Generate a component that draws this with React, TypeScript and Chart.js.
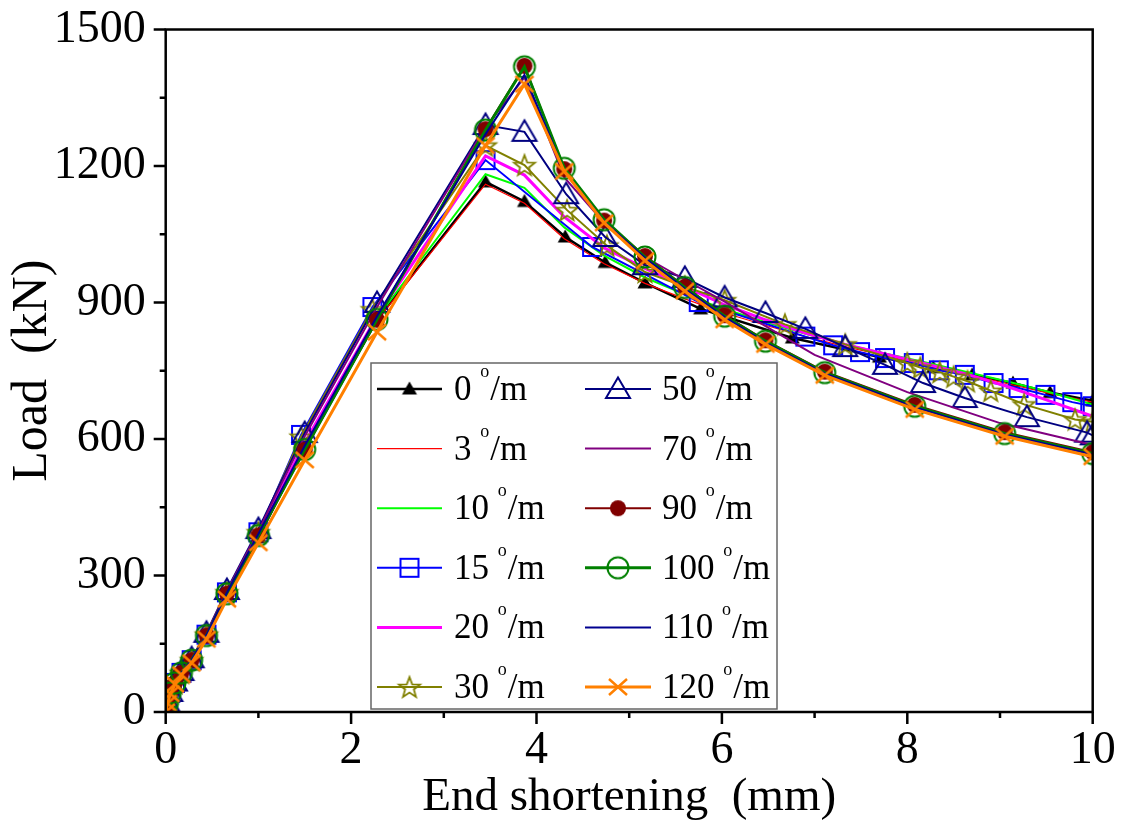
import React, { useEffect, useRef } from 'react';
import { Chart, registerables } from 'chart.js';

Chart.register(...registerables);

const FONT = "'Liberation Serif', 'Times New Roman', Times, serif";

// ---- data (end shortening in mm, load in kN) ----
const seriesLabels = ['0', '3', '10', '15', '20', '30', '50', '70', '90', '100', '110', '120'];

const x0 = [0, 0.02, 0.05, 0.1, 0.17, 0.28, 0.44, 0.66, 1.0, 1.5, 2.28, 3.45, 3.87, 4.31, 4.74, 5.17, 5.77, 6.76, 7.7, 8.28, 8.7, 9.14, 9.54, 10];
const y0 = [0, 19, 41, 63, 85, 112, 166, 257, 383, 583, 862, 1165, 1122, 1044, 988, 943, 886, 822, 780, 757, 741, 723, 702, 684];

const x3 = [0, 0.02, 0.05, 0.1, 0.17, 0.28, 0.44, 0.66, 1.0, 1.5, 2.28, 3.45, 3.87, 4.3, 4.73, 5.17, 5.6, 6.03, 6.47, 6.9, 7.33, 7.76, 8.2, 8.63, 9.07, 9.5, 10];
const y3 = [0, 19, 41, 63, 85, 112, 166, 257, 383, 582, 860, 1160, 1118, 1040, 985, 942, 908, 877, 850, 825, 803, 783, 763, 743, 722, 702, 681];

const x10 = [0, 0.02, 0.05, 0.1, 0.17, 0.28, 0.44, 0.66, 1.0, 1.5, 2.28, 3.45, 3.87, 4.3, 4.73, 5.17, 5.6, 6.03, 6.47, 6.9, 7.33, 7.76, 8.2, 8.63, 9.07, 9.5, 10];
const y10 = [0, 20, 42, 64, 86, 113, 168, 259, 387, 588, 866, 1182, 1152, 1065, 1003, 955, 918, 885, 857, 831, 808, 788, 768, 748, 727, 705, 676];

const x15 = [0, 0.02, 0.05, 0.1, 0.17, 0.28, 0.44, 0.66, 1.0, 1.46, 2.23, 3.45, 4.6, 5.75, 6.9, 7.2, 7.49, 7.76, 8.07, 8.34, 8.62, 8.93, 9.2, 9.49, 9.78, 10];
const y15 = [0, 20, 42, 64, 86, 114, 170, 263, 395, 609, 890, 1213, 1022, 901, 825, 806, 791, 778, 767, 751, 741, 723, 712, 697, 681, 672];

const x20 = [0, 0.02, 0.05, 0.1, 0.17, 0.28, 0.44, 0.66, 1.0, 1.5, 2.28, 3.45, 3.87, 4.3, 4.73, 5.17, 5.6, 6.03, 6.47, 6.9, 7.33, 7.76, 8.2, 8.63, 9.07, 9.5, 10];
const y20 = [0, 20, 42, 64, 86, 114, 169, 261, 390, 592, 870, 1222, 1180, 1088, 1020, 975, 935, 895, 862, 833, 808, 787, 765, 743, 716, 686, 650];

const x30 = [0, 0.02, 0.05, 0.1, 0.17, 0.28, 0.44, 0.66, 1.0, 1.46, 2.23, 3.45, 3.87, 4.33, 4.76, 5.17, 5.6, 6.03, 6.68, 7.33, 8.0, 8.14, 8.35, 8.5, 8.65, 8.9, 9.26, 9.81, 10];
const y30 = [0, 20, 42, 64, 86, 114, 170, 263, 395, 605, 885, 1245, 1202, 1103, 1025, 967, 935, 905, 852, 808, 767, 757, 747, 737, 727, 706, 676, 643, 638];

const x50 = [0, 0.02, 0.05, 0.1, 0.17, 0.28, 0.44, 0.66, 1.0, 1.5, 2.28, 3.45, 3.87, 4.32, 4.74, 5.17, 5.6, 6.03, 6.47, 6.9, 7.33, 7.76, 8.17, 8.62, 9.29, 9.94, 10];
const y50 = [0, 21, 44, 67, 90, 118, 174, 268, 402, 613, 899, 1290, 1275, 1138, 1044, 982, 954, 911, 877, 842, 802, 763, 723, 690, 648, 614, 608];

const x70 = [0, 0.02, 0.05, 0.1, 0.17, 0.28, 0.44, 0.66, 1.0, 1.5, 2.28, 3.45, 3.87, 4.3, 4.73, 5.17, 5.6, 6.03, 6.47, 7.0, 8.0, 9.0, 10];
const y70 = [0, 21, 43, 66, 89, 117, 173, 266, 398, 606, 890, 1285, 1395, 1175, 1075, 1000, 950, 902, 848, 785, 703, 635, 587];

const x90 = [0, 0.02, 0.05, 0.1, 0.17, 0.28, 0.44, 0.66, 1.0, 1.5, 2.28, 3.45, 3.87, 4.3, 4.73, 5.17, 5.6, 6.03, 6.47, 7.11, 8.08, 9.05, 10];
const y90 = [0, 20, 42, 64, 86, 114, 168, 260, 388, 576, 862, 1281, 1420, 1193, 1080, 1002, 935, 872, 817, 748, 675, 615, 571];

const x100 = [0, 0.02, 0.05, 0.1, 0.17, 0.28, 0.44, 0.66, 1.0, 1.5, 2.28, 3.45, 3.87, 4.3, 4.73, 5.17, 5.6, 6.03, 6.47, 7.11, 8.08, 9.05, 10];
const y100 = [0, 20, 42, 64, 86, 114, 168, 260, 388, 577, 863, 1279, 1418, 1195, 1082, 1000, 933, 870, 815, 746, 672, 612, 568];

const x110 = [0, 0.02, 0.05, 0.1, 0.17, 0.28, 0.44, 0.66, 1.0, 1.5, 2.28, 3.45, 3.87, 4.3, 4.73, 5.17, 5.6, 6.03, 6.47, 7.11, 8.08, 9.05, 10];
const y110 = [0, 20, 42, 64, 86, 114, 169, 262, 391, 585, 870, 1270, 1400, 1188, 1078, 998, 930, 868, 812, 744, 670, 610, 566];

const x120 = [0, 0.02, 0.05, 0.1, 0.17, 0.28, 0.44, 0.66, 1.0, 1.5, 2.28, 3.45, 3.87, 4.3, 4.73, 5.17, 5.6, 6.03, 6.47, 7.11, 8.08, 9.05, 10];
const y120 = [0, 19, 40, 61, 82, 108, 160, 248, 372, 554, 835, 1245, 1380, 1188, 1075, 992, 925, 862, 808, 740, 665, 606, 561];

const seriesX = [x0, x3, x10, x15, x20, x30, x50, x70, x90, x100, x110, x120];
const seriesY = [y0, y3, y10, y15, y20, y30, y50, y70, y90, y100, y110, y120];

const xTicks = [0, 2, 4, 6, 8, 10];
const yTicks = [0, 300, 600, 900, 1200, 1500];

// ---- styles ----
type MarkerKind = 'triFill' | 'triOpen' | 'square' | 'star' | 'dot' | 'ring' | 'cross' | null;

const seriesStyles: { color: string; width: number; marker: MarkerKind }[] = [
  { color: '#000000', width: 2.5, marker: 'triFill' },
  { color: '#ff0000', width: 1.2, marker: null },
  { color: '#00ff00', width: 2, marker: null },
  { color: '#0000ff', width: 2, marker: 'square' },
  { color: '#ff00ff', width: 3, marker: null },
  { color: '#808000', width: 2, marker: 'star' },
  { color: '#000080', width: 2, marker: 'triOpen' },
  { color: '#800080', width: 2, marker: null },
  { color: '#800000', width: 2, marker: 'dot' },
  { color: '#008000', width: 3, marker: 'ring' },
  { color: '#000090', width: 2, marker: null },
  { color: '#ff8000', width: 3, marker: 'cross' },
];

function makeMarker(kind: MarkerKind, color: string): HTMLCanvasElement | null {
  if (!kind) return null;
  const c = document.createElement('canvas');
  c.width = 32;
  c.height = 32;
  const g = c.getContext('2d')!;
  g.translate(16, 16);
  g.strokeStyle = color;
  g.fillStyle = color;
  g.lineWidth = 2;
  g.beginPath();
  switch (kind) {
    case 'triFill':
      g.moveTo(0, -7.5);
      g.lineTo(7.5, 5.5);
      g.lineTo(-7.5, 5.5);
      g.closePath();
      g.fill();
      break;
    case 'triOpen':
      g.moveTo(0, -11.5);
      g.lineTo(12, 9);
      g.lineTo(-12, 9);
      g.closePath();
      g.stroke();
      break;
    case 'square':
      g.rect(-9, -9, 18, 18);
      g.stroke();
      break;
    case 'star': {
      const R = 11;
      const r = 4.6;
      for (let i = 0; i < 10; i++) {
        const a = -Math.PI / 2 + (i * Math.PI) / 5;
        const rad = i % 2 === 0 ? R : r;
        const px = Math.cos(a) * rad;
        const py = Math.sin(a) * rad + 1;
        if (i === 0) g.moveTo(px, py);
        else g.lineTo(px, py);
      }
      g.closePath();
      g.lineWidth = 1.8;
      g.stroke();
      break;
    }
    case 'dot':
      g.arc(0, 0, 8, 0, Math.PI * 2);
      g.fill();
      break;
    case 'ring':
      g.arc(0, 0, 10.5, 0, Math.PI * 2);
      g.stroke();
      break;
    case 'cross':
      g.lineWidth = 2.5;
      g.moveTo(-9, -8);
      g.lineTo(9, 8);
      g.moveTo(9, -8);
      g.lineTo(-9, 8);
      g.stroke();
      break;
  }
  return c;
}

export default function App() {
  const ref = useRef<HTMLCanvasElement | null>(null);

  useEffect(() => {
    const canvas = ref.current;
    if (!canvas) return;
    const markers = seriesStyles.map((s) => makeMarker(s.marker, s.color));

    const datasets = seriesLabels.map((lab, i) => {
      const st = seriesStyles[i];
      const mk = markers[i];
      return {
        label: lab + ' °/m',
        data: seriesX[i].map((x, j) => ({ x, y: seriesY[i][j] })),
        borderColor: st.color,
        backgroundColor: st.color,
        borderWidth: st.width,
        pointStyle: mk || 'circle',
        pointRadius: mk ? 10 : 0,
        pointHoverRadius: mk ? 10 : 0,
        tension: 0,
        fill: false,
        order: seriesLabels.length - i,
      };
    });

    const frame = {
      id: 'frame',
      afterDatasetsDraw(chart: any) {
        const { ctx, chartArea: a, scales } = chart;
        const xs = scales.x;
        const ys = scales.y;
        ctx.save();
        ctx.strokeStyle = '#000';
        ctx.lineWidth = 2.5;
        ctx.strokeRect(a.left, a.top, a.right - a.left, a.bottom - a.top);
        ctx.beginPath();
        for (let v = 0; v <= 10; v += 1) {
          const px = xs.getPixelForValue(v);
          const len = v % 2 === 0 ? 12 : 6;
          ctx.moveTo(px, a.bottom);
          ctx.lineTo(px, a.bottom + len);
        }
        for (let v = 0; v <= 1500; v += 150) {
          const py = ys.getPixelForValue(v);
          const len = v % 300 === 0 ? 12 : 6;
          ctx.moveTo(a.left, py);
          ctx.lineTo(a.left - len, py);
        }
        ctx.stroke();
        ctx.restore();
      },
    };

    const legend = {
      id: 'customLegend',
      afterDraw(chart: any) {
        const { ctx } = chart;
        const box = { l: 371, t: 363, r: 777, b: 709 };
        ctx.save();
        ctx.fillStyle = '#fff';
        ctx.fillRect(box.l, box.t, box.r - box.l, box.b - box.t);
        ctx.strokeStyle = '#666';
        ctx.lineWidth = 1.5;
        ctx.strokeRect(box.l, box.t, box.r - box.l, box.b - box.t);
        seriesLabels.forEach((lab, i) => {
          const col = i < 6 ? 0 : 1;
          const row = i % 6;
          const y = 389 + row * 59.6;
          const lx1 = col ? 585 : 377;
          const lx2 = col ? 651 : 442;
          const tx = col ? 662 : 454;
          const st = seriesStyles[i];
          ctx.strokeStyle = st.color;
          ctx.lineWidth = st.width;
          ctx.beginPath();
          ctx.moveTo(lx1, y);
          ctx.lineTo(lx2, y);
          ctx.stroke();
          const mk = markers[i];
          if (mk) ctx.drawImage(mk, (lx1 + lx2) / 2 - 16, y - 16);
          ctx.fillStyle = '#000';
          ctx.textBaseline = 'alphabetic';
          ctx.textAlign = 'left';
          const base = y + 11;
          let x = tx;
          const main = lab + ' ';
          ctx.font = `35px ${FONT}`;
          ctx.fillText(main, x, base);
          x += ctx.measureText(main).width;
          ctx.font = `18px ${FONT}`;
          ctx.fillText('o', x, base - 23);
          x += ctx.measureText('o').width + 1;
          ctx.font = `35px ${FONT}`;
          ctx.fillText('/m', x, base);
        });
        ctx.restore();
      },
    };

    const chart = new Chart(canvas, {
      type: 'line',
      data: { datasets: datasets as any },
      options: {
        responsive: false,
        animation: false,
        devicePixelRatio: 1,
        layout: { padding: { left: 0, top: 29.5, right: 31.3, bottom: 0 } },
        plugins: { legend: { display: false }, tooltip: { enabled: false } },
        scales: {
          x: {
            type: 'linear',
            min: 0,
            max: 10,
            afterBuildTicks: (s: any) => {
              s.ticks = xTicks.map((v) => ({ value: v }));
            },
            ticks: {
              font: { family: FONT, size: 46 },
              color: '#000',
              padding: 11,
              maxRotation: 0,
              autoSkip: false,
              callback: (v: any) => String(v),
            },
            grid: { display: false, drawTicks: false },
            border: { display: false },
            title: {
              display: true,
              text: 'End shortening  (mm)',
              font: { family: FONT, size: 47 },
              color: '#000',
              padding: { top: 0, bottom: 0 },
            },
            afterFit: (s: any) => {
              s.height = 114;
              s.paddingLeft = 0;
              s.paddingRight = 0;
            },
          },
          y: {
            type: 'linear',
            min: 0,
            max: 1500,
            afterBuildTicks: (s: any) => {
              s.ticks = yTicks.map((v) => ({ value: v }));
            },
            ticks: {
              font: { family: FONT, size: 46 },
              color: '#000',
              padding: 20,
              callback: (v: any) => String(v),
            },
            grid: { display: false, drawTicks: false },
            border: { display: false },
            title: {
              display: true,
              text: 'Load  (kN)',
              font: { family: FONT, size: 50 },
              color: '#000',
              padding: { top: 3, bottom: 0 },
            },
            afterFit: (s: any) => {
              s.width = 165.7;
              s.paddingTop = 0;
              s.paddingBottom = 0;
            },
          },
        },
      },
      plugins: [frame, legend],
    });
    return () => chart.destroy();
  }, []);

  return (
    <div style={{ position: 'absolute', left: 0, top: 0, width: 1124, height: 826, background: '#fff' }}>
      <canvas ref={ref} width={1124} height={826} style={{ display: 'block' }} />
    </div>
  );
}
